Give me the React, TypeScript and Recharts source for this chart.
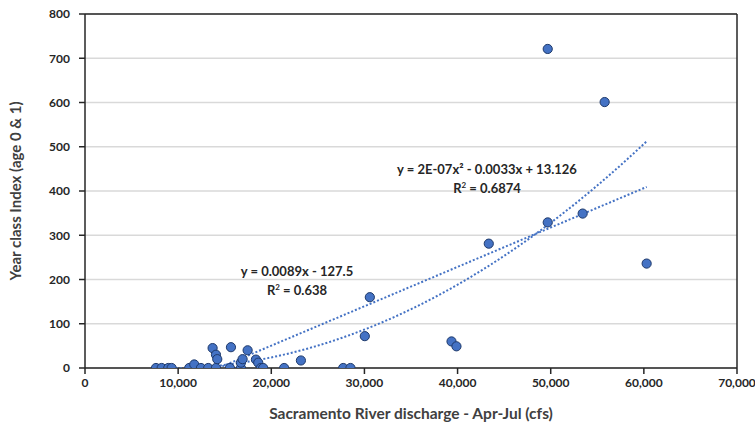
import { CartesianGrid, ReferenceDot, ReferenceLine, Scatter, ScatterChart, XAxis, YAxis } from "recharts";

// Apr-Jul discharge (cfs) and year class index
const discharge = [
  7620, 8230, 8940, 9300, 11190, 11730, 12450, 13230, 14060, 13700, 14060, 14200,
  15560, 15670, 16740, 16740, 16920, 17460, 18350, 18600, 18880, 19130, 21380, 23180,
  27720, 28500, 30040, 30580, 39350, 39880, 43350, 49680, 49680, 55790, 53430, 60300,
];
const yearClassIndex = [
  0, 0, 0, 0, 0, 8, 0, 0, 0, 45, 30, 20,
  0, 47, 0, 12, 20, 40, 19, 12, 0, 0, 0, 17,
  0, 0, 72, 160, 60, 49, 281, 329, 721, 601, 349, 236,
];
const xTicks = [0, 10000, 20000, 30000, 40000, 50000, 60000, 70000];
const yTicks = [0, 100, 200, 300, 400, 500, 600, 700, 800];

// trendline coefficients as labelled on the chart (x^2 term refined from the drawn curve)
const linearFit = { slope: 0.0089, intercept: -127.5 };
const polyFit = { a: 1.92e-7, b: -0.0033, c: 13.126 };

const BLUE = "#4472C4";
const INK = "#262626";
const FONT = "Lato, 'Open Sans', sans-serif";

const points = discharge.map((x, i) => ({ x, y: yearClassIndex[i] }));
const xMin = Math.min(...discharge);
const xMax = Math.max(...discharge);

const linearLine = [xMin, xMax].map((x) => ({ x, y: linearFit.slope * x + linearFit.intercept }));
const polyLine: { x: number; y: number }[] = [];
for (let x = xMin; x < xMax; x += 500) polyLine.push({ x, y: polyFit.a * x * x + polyFit.b * x + polyFit.c });
polyLine.push({ x: xMax, y: polyFit.a * xMax * xMax + polyFit.b * xMax + polyFit.c });

const dotted = { stroke: BLUE, strokeWidth: 2, strokeDasharray: "2 2" };

function Equation({ cx, cy, eq, r2 }: any) {
  return (
    <text x={cx} textAnchor="middle" fontFamily={FONT} fontWeight={700} fontSize={13} fill={INK}>
      <tspan x={cx} y={cy + 4}>{eq}</tspan>
      <tspan x={cx} y={cy + 23}>R</tspan>
      <tspan dy={-5} fontSize={8}>2</tspan>
      <tspan dy={5}>{` = ${r2}`}</tspan>
    </text>
  );
}

export default function App() {
  const tickStyle = { fontFamily: FONT, fontWeight: 700, fontSize: 12, fill: INK };
  return (
    <div style={{ position: "absolute", left: 0, top: 0, background: "#fff" }}>
      <ScatterChart width={755} height={428} margin={{ top: 14, right: 18, bottom: 0, left: 0 }}>
        <CartesianGrid vertical={false} stroke="#d9d9d9" strokeWidth={1.5} />
        <XAxis
          type="number" dataKey="x" domain={[0, 70000]} ticks={xTicks} height={60}
          tickFormatter={(v: number) => v.toLocaleString("en-US")}
          tick={tickStyle} tickSize={6} tickMargin={4}
          axisLine={{ stroke: INK, strokeWidth: 1.5 }} tickLine={{ stroke: INK, strokeWidth: 1.5 }}
          label={{ value: "Sacramento River discharge - Apr-Jul (cfs)", position: "insideBottom", offset: 9,
            style: { fontFamily: FONT, fontWeight: 700, fontSize: 15.5, fill: "#404040" } }}
        />
        <YAxis
          type="number" dataKey="y" domain={[0, 800]} ticks={yTicks} width={85} allowDataOverflow
          tick={tickStyle} tickSize={6} tickMargin={9}
          axisLine={{ stroke: INK, strokeWidth: 1.5 }} tickLine={{ stroke: INK, strokeWidth: 1.5 }}
          label={(p: any) => {
            const vb = p.viewBox;
            const cy = vb.y + vb.height / 2;
            return (
              <text x={15} y={cy} transform={`rotate(-90 15 ${cy})`} textAnchor="middle" dominantBaseline="central"
                fontFamily={FONT} fontWeight={700} fontSize={15} fill="#404040">
                Year class Index (age 0 &amp; 1)
              </text>
            );
          }}
        />
        <ReferenceLine y={800} stroke={INK} strokeWidth={1.5} />
        <ReferenceLine x={70000} stroke={INK} strokeWidth={1.5} />
        <Scatter data={linearLine} line={dotted} shape={() => <g />} isAnimationActive={false} />
        <Scatter data={polyLine} line={dotted} shape={() => <g />} isAnimationActive={false} />
        <Scatter
          data={points} isAnimationActive={false}
          shape={(p: any) => <circle cx={p.cx} cy={p.cy} r={4.6} fill={BLUE} stroke="#1f3a6b" strokeWidth={1} />}
        />
        <ReferenceDot x={43160} y={447} r={0}
          shape={(p: any) => <Equation cx={p.cx} cy={p.cy} eq="y = 2E-07x² - 0.0033x + 13.126" r2="0.6874" />} />
        <ReferenceDot x={22760} y={218} r={0}
          shape={(p: any) => <Equation cx={p.cx} cy={p.cy} eq="y = 0.0089x - 127.5" r2="0.638" />} />
      </ScatterChart>
    </div>
  );
}
